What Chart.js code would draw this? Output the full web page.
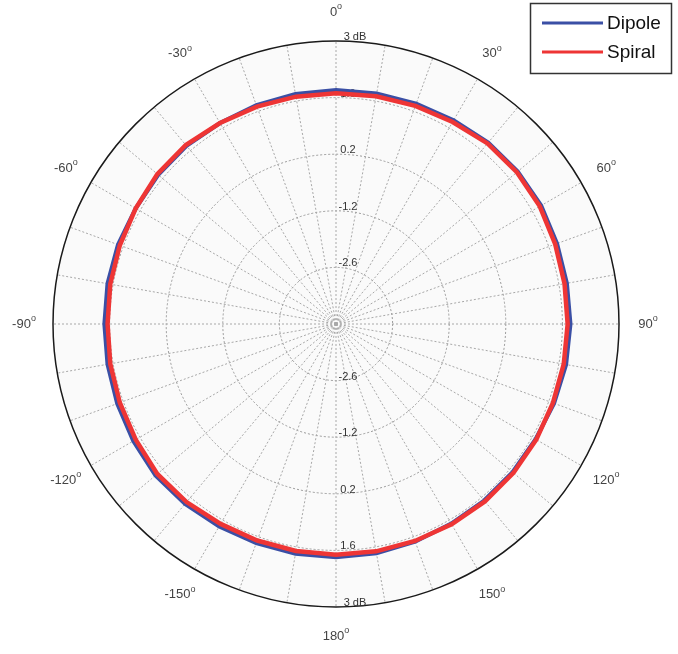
<!DOCTYPE html>
<html>
<head>
<meta charset="utf-8">
<script src="https://cdn.jsdelivr.net/npm/chart.js@4.4.0/dist/chart.umd.min.js"></script>
<style>
  html, body { margin: 0; padding: 0; background: #ffffff; }
  #wrap { width: 678px; height: 654px; position: relative; }
</style>
</head>
<body>
<div id="wrap"><canvas id="c"></canvas></div>
<script>
// Azimuth of each sample, degrees clockwise from the top
const angles = [0, 10, 20, 30, 40, 50, 60, 70, 80, 90, 100, 110, 120, 130, 140, 150, 160, 170,
                180, 190, 200, 210, 220, 230, 240, 250, 260, 270, 280, 290, 300, 310, 320, 330, 340, 350];

// Gain in dB at each azimuth
const dipole = [1.79, 1.79, 1.80, 1.82, 1.86, 1.87, 1.86, 1.82, 1.80, 1.80, 1.78, 1.74,
                1.70, 1.70, 1.70, 1.70, 1.73, 1.76, 1.77, 1.77, 1.77, 1.78, 1.81, 1.83,
                1.79, 1.76, 1.74, 1.73, 1.74, 1.74, 1.72, 1.74, 1.75, 1.74, 1.76, 1.78];
const spiral = [1.71, 1.72, 1.74, 1.77, 1.83, 1.84, 1.82, 1.77, 1.74, 1.73, 1.72, 1.71,
                1.72, 1.73, 1.73, 1.72, 1.71, 1.71, 1.71, 1.70, 1.70, 1.71, 1.75, 1.77,
                1.72, 1.69, 1.67, 1.65, 1.67, 1.69, 1.72, 1.77, 1.78, 1.74, 1.72, 1.71];

// Radial rings (dB) and their captions
const ringTicks = [-4, -2.6, -1.2, 0.2, 1.6, 3];
const ringLabels = ['', '-2.6', '-1.2', '0.2', '1.6', '3 dB'];

// Angles that get a caption around the rim
const angleLabelStep = 30;

const FONT = '"Liberation Sans", Arial, sans-serif';
const LAST = ringTicks.length - 1;

const polarDecor = {
  id: 'polarDecor',
  beforeDraw(chart) {
    const s = chart.scales.r;
    const ctx = chart.ctx;
    ctx.save();
    ctx.fillStyle = '#fafafa';
    ctx.beginPath();
    ctx.arc(s.xCenter, s.yCenter, s.drawingArea, 0, Math.PI * 2);
    ctx.fill();
    ctx.restore();
  },
  beforeDatasetsDraw(chart) {
    // ring captions above each circle, on the upper and lower vertical axis
    const s = chart.scales.r;
    const ctx = chart.ctx;
    ctx.save();
    ctx.font = '11px ' + FONT;
    ctx.fillStyle = '#333333';
    ctx.textAlign = 'center';
    ctx.textBaseline = 'middle';
    ringTicks.forEach((v, i) => {
      const txt = ringLabels[i];
      if (!txt) return;
      const r = s.getDistanceFromCenterForValue(v);
      const x = s.xCenter + (i === LAST ? 19 : 12);
      ctx.fillText(txt, x, s.yCenter - r - 4);
      ctx.fillText(txt, x, s.yCenter + r - 4);
    });
    ctx.restore();
  },
  afterDraw(chart) {
    const s = chart.scales.r;
    const ctx = chart.ctx;
    ctx.save();
    // azimuth captions with a raised "o"
    ctx.fillStyle = '#444444';
    ctx.textBaseline = 'middle';
    ctx.textAlign = 'left';
    angles.forEach((a, i) => {
      if (a % angleLabelStep !== 0) return;
      const shown = a > 180 ? a - 360 : a;
      const p = s.getPointPosition(i, 312);
      ctx.font = '13px ' + FONT;
      const num = String(shown);
      const w1 = ctx.measureText(num).width;
      ctx.font = '9px ' + FONT;
      const w2 = ctx.measureText('o').width;
      const x0 = p.x - (w1 + w2) / 2;
      ctx.font = '13px ' + FONT;
      ctx.fillText(num, x0, p.y);
      ctx.font = '9px ' + FONT;
      ctx.fillText('o', x0 + w1, p.y - 5);
    });

    // legend box
    const bx = 530.5, by = 3.5, bw = 141, bh = 70;
    ctx.fillStyle = '#ffffff';
    ctx.fillRect(bx, by, bw, bh);
    ctx.strokeStyle = '#333333';
    ctx.lineWidth = 1.5;
    ctx.strokeRect(bx, by, bw, bh);
    const rows = [23, 52];
    chart.data.datasets.forEach((ds, k) => {
      const y = rows[k];
      ctx.strokeStyle = ds.borderColor;
      ctx.lineWidth = 3;
      ctx.beginPath();
      ctx.moveTo(542, y);
      ctx.lineTo(603, y);
      ctx.stroke();
      ctx.fillStyle = '#111111';
      ctx.font = '19px ' + FONT;
      ctx.textAlign = 'left';
      ctx.textBaseline = 'middle';
      ctx.fillText(ds.label, 607, y + 1);
    });
    ctx.restore();
  }
};

new Chart(document.getElementById('c'), {
  type: 'radar',
  data: {
    labels: angles,
    datasets: [
      { label: 'Dipole', data: dipole, borderColor: '#3a4fa5', borderWidth: 4,
        pointRadius: 0, fill: false, tension: 0, order: 2 },
      { label: 'Spiral', data: spiral, borderColor: '#ee3535', borderWidth: 4.5,
        pointRadius: 0, fill: false, tension: 0, order: 1 }
    ]
  },
  options: {
    responsive: true,
    maintainAspectRatio: false,
    devicePixelRatio: 1,
    animation: false,
    layout: { padding: { left: 53, right: 59, top: 41, bottom: 47 } },
    plugins: { legend: { display: false }, tooltip: { enabled: false } },
    scales: {
      r: {
        min: -4,
        max: 3,
        startAngle: 0,
        afterBuildTicks: (scale) => { scale.ticks = ringTicks.map(v => ({ value: v })); },
        ticks: { display: false },
        pointLabels: { display: false },
        grid: {
          circular: true,
          color: (c) => c.index === LAST ? '#1a1a1a' : '#9a9a9a',
          lineWidth: (c) => c.index === LAST ? 1.5 : 1
        },
        border: { dash: (c) => c.index === LAST ? [] : [2, 2] },
        angleLines: { color: '#a8a8a8', lineWidth: 1, borderDash: [2, 2] }
      }
    }
  },
  plugins: [polarDecor]
});
</script>
</body>
</html>
